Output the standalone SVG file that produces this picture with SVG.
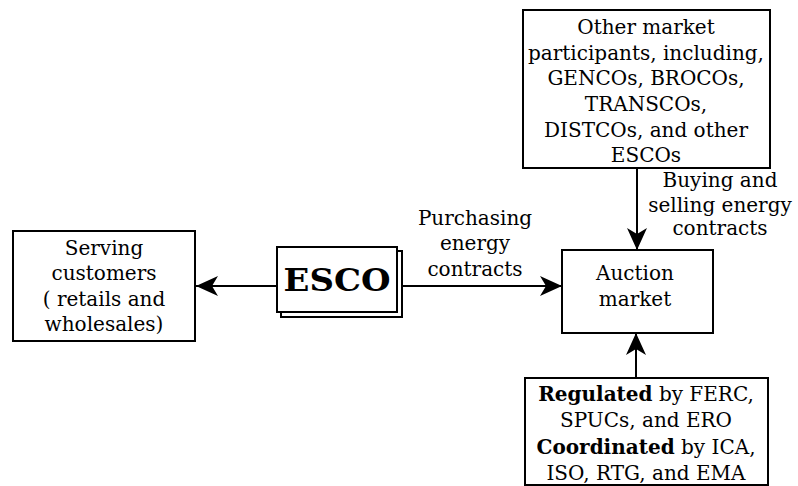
<svg xmlns="http://www.w3.org/2000/svg" width="798" height="486" viewBox="0 0 798 486">
  <style>
    .box { fill: #fff; stroke: #000; stroke-width: 2; }
    .t { font-family: "DejaVu Serif", "Liberation Serif", serif; font-size: 20px; fill: #000; text-anchor: middle; }
    .b { font-weight: bold; }
    .big { font-family: "DejaVu Serif", "Liberation Serif", serif; font-size: 31px; font-weight: bold; fill: #000; text-anchor: middle; }
    .link { stroke: #000; stroke-width: 2; fill: none; marker-end: url(#head); }
  </style>
  <defs>
    <marker id="head" viewBox="0 0 22 20" refX="22" refY="10" markerWidth="22" markerHeight="20" markerUnits="userSpaceOnUse" orient="auto">
      <path d="M0,0 L22,10 L0,20 L6,10 Z" fill="#000"/>
    </marker>
  </defs>

  <g id="connectors">
    <line class="link" x1="277" y1="286" x2="196" y2="286"/>
    <line class="link" x1="402" y1="286" x2="562" y2="286"/>
    <line class="link" x1="637" y1="168" x2="637" y2="250"/>
    <line class="link" x1="636" y1="378" x2="636" y2="333"/>
  </g>

  <g id="serving">
    <rect class="box" x="13" y="231" width="182" height="110"/>
    <text class="t" x="104" y="255">Serving</text>
    <text class="t" x="104" y="280">customers</text>
    <text class="t" x="104" y="306">( retails and</text>
    <text class="t" x="104" y="331">wholesales)</text>
  </g>

  <g id="esco">
    <rect class="box" x="281" y="251" width="121" height="66"/>
    <rect class="box" x="277" y="247" width="120" height="65"/>
    <text class="big" x="337" y="291" textLength="107" lengthAdjust="spacingAndGlyphs">ESCO</text>
  </g>

  <g id="purchasing-label">
    <text class="t" x="475" y="225">Purchasing</text>
    <text class="t" x="475" y="250">energy</text>
    <text class="t" x="475" y="276">contracts</text>
  </g>

  <g id="auction">
    <rect class="box" x="562" y="250" width="151" height="83"/>
    <text class="t" x="635" y="280">Auction</text>
    <text class="t" x="635" y="306">market</text>
  </g>

  <g id="participants">
    <rect class="box" x="523" y="10" width="247" height="158"/>
    <text class="t" x="646" y="34">Other market</text>
    <text class="t" x="646" y="60">participants, including,</text>
    <text class="t" x="646" y="85">GENCOs, BROCOs,</text>
    <text class="t" x="646" y="111">TRANSCOs,</text>
    <text class="t" x="646" y="137">DISTCOs, and other</text>
    <text class="t" x="646" y="162">ESCOs</text>
  </g>

  <g id="buying-label">
    <text class="t" x="720" y="187">Buying and</text>
    <text class="t" x="720" y="212">selling energy</text>
    <text class="t" x="720" y="235">contracts</text>
  </g>

  <g id="regulators">
    <rect class="box" x="525" y="378" width="243" height="107"/>
    <text class="t" x="646" y="401"><tspan class="b">Regulated</tspan> by FERC,</text>
    <text class="t" x="646" y="427">SPUCs, and ERO</text>
    <text class="t" x="646" y="454"><tspan class="b">Coordinated</tspan> by ICA,</text>
    <text class="t" x="646" y="480">ISO, RTG, and EMA</text>
  </g>
</svg>
